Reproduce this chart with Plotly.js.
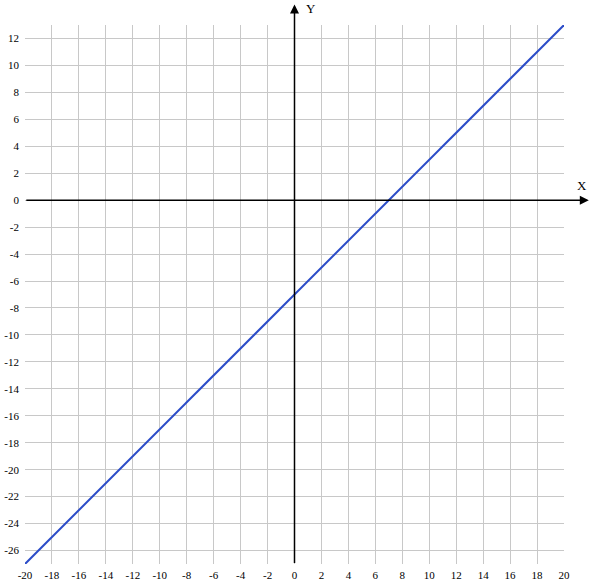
<!DOCTYPE html>
<html>
<head>
<meta charset="utf-8">
<script src="https://cdn.plot.ly/plotly-3.0.1.min.js"></script>
<style>html,body{margin:0;padding:0;background:#fff;}</style>
</head>
<body>
<div id="chart" style="width:592px;height:585px;"></div>
<script>
// Data: the line y = x - 7
var lineX = [-20, 0, 7, 20];
var lineY = [-27, -7, 0, 13];
var xRange = [-20, 20];
var yRange = [-27, 13];
var xTickVals = [-20, -18, -16, -14, -12, -10, -8, -6, -4, -2, 0, 2, 4, 6, 8, 10, 12, 14, 16, 18, 20];
var xTickText = ["-20", "-18", "-16", "-14", "-12", "-10", "-8", "-6", "-4", "-2", "0", "2", "4", "6", "8", "10", "12", "14", "16", "18", "20"];
var yTickVals = [-26, -24, -22, -20, -18, -16, -14, -12, -10, -8, -6, -4, -2, 0, 2, 4, 6, 8, 10, 12];
var yTickText = ["-26", "-24", "-22", "-20", "-18", "-16", "-14", "-12", "-10", "-8", "-6", "-4", "-2", "0", "2", "4", "6", "8", "10", "12"];
var xLabel = "X";
var yLabel = "Y";

var fam = "Liberation Serif";
var font = {family: fam, size: 11, color: "#000"};

var trace = {
  x: lineX, y: lineY, type: "scatter", mode: "lines",
  line: {color: "#2b4cc8", width: 2}, hoverinfo: "skip"
};

var zeroXFrac = (0 - xRange[0]) / (xRange[1] - xRange[0]);
var zeroYFrac = (0 - yRange[0]) / (yRange[1] - yRange[0]);

var layout = {
  width: 592, height: 585,
  margin: {l: 25, r: 28, t: 25, b: 21, pad: 0},
  paper_bgcolor: "#fff", plot_bgcolor: "#fff",
  showlegend: false,
  font: font,
  xaxis: {
    range: xRange, tickmode: "array", tickvals: xTickVals, ticktext: xTickText,
    showgrid: true, gridcolor: "#c8c8c8", gridwidth: 1,
    zeroline: false, showline: false, ticks: "", tickfont: font, fixedrange: true,
    ticklabelstandoff: 3
  },
  yaxis: {
    range: yRange, tickmode: "array", tickvals: yTickVals, ticktext: yTickText,
    showgrid: true, gridcolor: "#c8c8c8", gridwidth: 1,
    zeroline: false, showline: false, ticks: "", tickfont: font, fixedrange: true,
    ticklabelstandoff: 5
  },
  annotations: [
    {xref: "paper", yref: "paper", x: zeroXFrac, y: 1.038, ax: 0, ay: 560, axref: "pixel", ayref: "pixel",
     text: "", showarrow: true, arrowhead: 2, arrowsize: 1.2, arrowwidth: 1.5, arrowcolor: "#000"},
    {xref: "paper", yref: "paper", x: 1.046, y: zeroYFrac, ax: -564, ay: 0, axref: "pixel", ayref: "pixel",
     text: "", showarrow: true, arrowhead: 2, arrowsize: 1.2, arrowwidth: 1.5, arrowcolor: "#000"},
    {xref: "paper", yref: "paper", x: zeroXFrac, y: 1.03, xanchor: "left", yanchor: "middle", xshift: 9,
     text: yLabel, showarrow: false, font: {family: fam, size: 13, color: "#000"}},
    {xref: "paper", yref: "paper", x: 1.046, y: zeroYFrac, xanchor: "center", yanchor: "bottom", yshift: 5, xshift: -7,
     text: xLabel, showarrow: false, font: {family: fam, size: 13, color: "#000"}}
  ]
};

Plotly.newPlot("chart", [trace], layout, {staticPlot: true, displayModeBar: false});
</script>
</body>
</html>
